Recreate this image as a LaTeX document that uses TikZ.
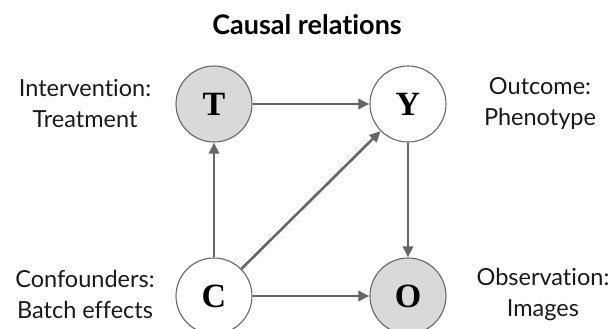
\documentclass[tikz,border=0pt]{standalone}
\usepackage{fontspec}
\setmainfont[Ligatures={NoCommon}]{Lato}
\newfontfamily\circfont{Liberation Serif}
\usetikzlibrary{arrows.meta}
\begin{document}
\begin{tikzpicture}[x=1pt,y=-1pt,
  var/.style={circle,draw=black!60,line width=1.1pt,minimum size=76pt,inner sep=0pt,font=\circfont\bfseries\fontsize{34}{34}\selectfont},
  shaded/.style={fill=black!15},
  lbl/.style={align=center,font=\fontsize{23.5}{31}\selectfont,text=black!90},
  arr/.style={draw=black!60,line width=2.6pt,-{Triangle[length=11pt,width=10pt]}}]
\useasboundingbox (0,0) rectangle (613,329);
\node[font=\bfseries\fontsize{27}{27}\selectfont] (title) at (307,25) {Causal relations};
\node[var,shaded] (T) at (214,104) {T};
\node[var,fill=white] (Y) at (408,104) {Y};
\node[var,fill=white] (C) at (214,296) {C};
\node[var,shaded] (O) at (408,296) {O};
\node[lbl] (lt) at (85,104) {Intervention:\\Treatment};
\node[lbl] (ly) at (540,104) {Outcome:\\Phenotype};
\node[lbl] (lc) at (85,294) {Confounders:\\Batch effects};
\node[lbl] (lo) at (543,294) {Observation:\\Images};
\draw[arr] (T) -- (Y);
\draw[arr] (C) -- (T);
\draw[arr] (C) -- (Y);
\draw[arr] (C) -- (O);
\draw[arr] (Y) -- (O);
\end{tikzpicture}
\end{document}
